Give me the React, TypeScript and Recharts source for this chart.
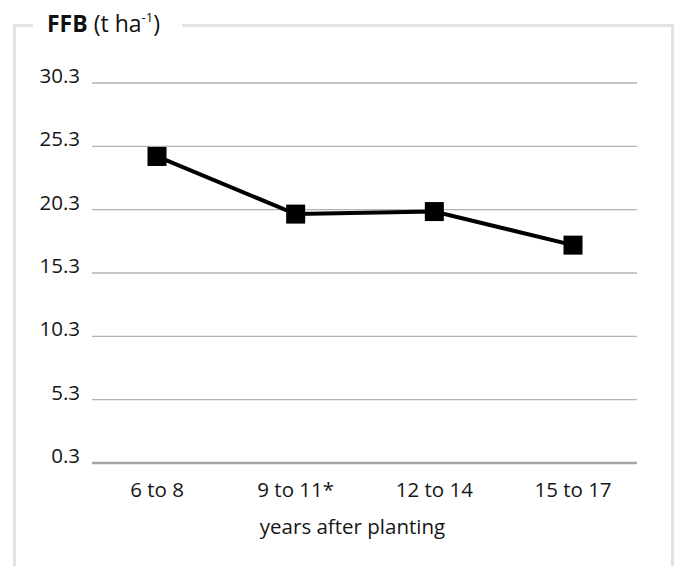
import { LineChart, Line, XAxis, YAxis, CartesianGrid } from 'recharts';

const categories = ['6 to 8', '9 to 11*', '12 to 14', '15 to 17'];
const ffbValues = [24.5, 19.95, 20.15, 17.5];
const yTicks = [0.3, 5.3, 10.3, 15.3, 20.3, 25.3, 30.3];

const data = categories.map((label, i) => ({ label, ffb: ffbValues[i] }));

const FONT = '"Open Sans", Lato, sans-serif';
const TEXT = '#161616';
const FRAME = '#e2e2e2';
const SIZE = 20.5;

function YTick({ x, y, payload }: any) {
  return (
    <text x={x} y={y} textAnchor="end" fill={TEXT} fontSize={SIZE} fontFamily={FONT}>
      {payload.value.toFixed(1)}
    </text>
  );
}

function XTick({ x, y, payload }: any) {
  return (
    <text x={x} y={y} textAnchor="middle" fill={TEXT} fontSize={SIZE} fontFamily={FONT}>
      {payload.value}
    </text>
  );
}

function SquareDot({ cx, cy }: any) {
  if (cx == null || cy == null) return null;
  return <rect x={cx - 9.5} y={cy - 9.5} width={19} height={19} fill="#000" />;
}

function AxisTitle({ viewBox }: any) {
  const { x, y, width } = viewBox;
  return (
    <text
      x={x + width / 2 - 12}
      y={y + 71}
      textAnchor="middle"
      fill={TEXT}
      fontSize={SIZE}
      fontFamily={FONT}
    >
      years after planting
    </text>
  );
}

export default function App() {
  return (
    <div style={{ position: 'absolute', left: 0, top: 0, width: 675, height: 566, background: '#fff' }}>
      {/* frame with the title cut into the top edge */}
      <div style={{ position: 'absolute', left: 13, top: 24, width: 3, height: 542, background: FRAME }} />
      <div style={{ position: 'absolute', left: 671, top: 24, width: 3, height: 542, background: FRAME }} />
      <div style={{ position: 'absolute', left: 13, top: 24, width: 20, height: 3, background: FRAME }} />
      <div style={{ position: 'absolute', left: 182, top: 24, width: 492, height: 3, background: FRAME }} />
      <div
        style={{
          position: 'absolute',
          left: 47,
          top: 8,
          fontFamily: FONT,
          fontSize: 23,
          lineHeight: '30px',
          color: '#111',
          whiteSpace: 'nowrap',
        }}
      >
        <b>FFB</b> (t ha<span style={{ fontSize: 13, position: 'relative', top: -10 }}>-1</span>)
      </div>

      <LineChart
        width={675}
        height={566}
        data={data}
        margin={{ top: 83, right: 38, left: 0, bottom: 0 }}
        style={{ position: 'absolute', left: 0, top: 0 }}
      >
        <CartesianGrid vertical={false} stroke="#b3b3b3" strokeWidth={1.3} />
        <XAxis
          dataKey="label"
          height={103}
          padding={{ left: 65, right: 64 }}
          tickLine={false}
          tickSize={0}
          tickMargin={34}
          axisLine={{ stroke: '#a6a6a6', strokeWidth: 2.6 }}
          tick={<XTick />}
          interval={0}
          label={<AxisTitle />}
        />
        <YAxis
          width={92}
          domain={[0.3, 30.3]}
          ticks={yTicks}
          interval={0}
          axisLine={false}
          tickLine={false}
          tickSize={0}
          tickMargin={12}
          tick={<YTick />}
        />
        <Line
          type="linear"
          dataKey="ffb"
          stroke="#000"
          strokeWidth={4}
          dot={<SquareDot />}
          activeDot={false}
          isAnimationActive={false}
        />
      </LineChart>
    </div>
  );
}
